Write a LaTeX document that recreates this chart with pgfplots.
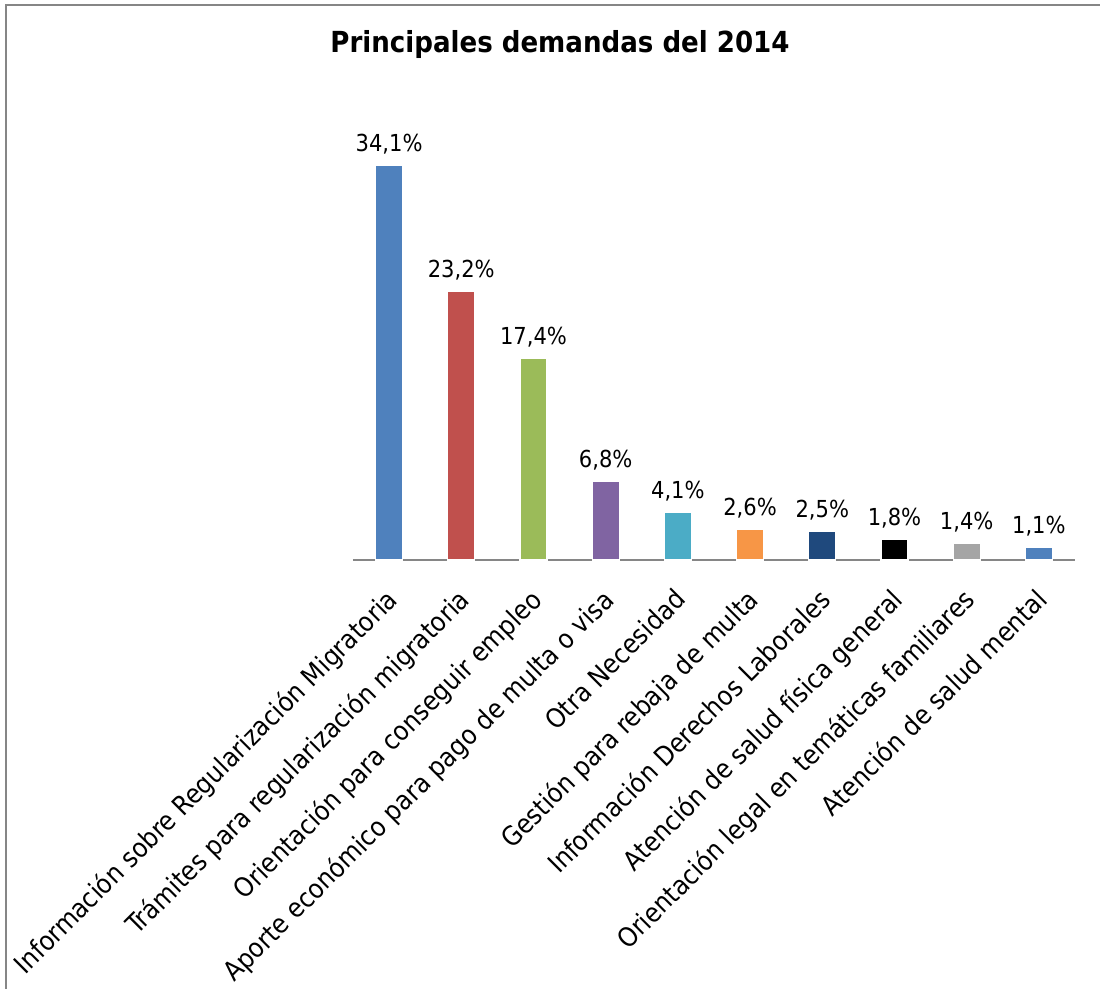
\documentclass[border=0pt]{standalone}
\usepackage{fontspec}
\setmainfont{DejaVu Sans Condensed}
\usepackage{pgfplots}
\pgfplotsset{compat=1.18}
\definecolor{c1}{HTML}{4F81BD}
\definecolor{c2}{HTML}{C0504D}
\definecolor{c3}{HTML}{9BBB59}
\definecolor{c4}{HTML}{8064A2}
\definecolor{c5}{HTML}{4BACC6}
\definecolor{c6}{HTML}{F79646}
\definecolor{c7}{HTML}{1F497D}
\definecolor{c8}{HTML}{000000}
\definecolor{c9}{HTML}{A5A5A5}
\definecolor{c10}{HTML}{4F81BD}
\definecolor{frame}{HTML}{868686}
\begin{document}
\begin{tikzpicture}
\useasboundingbox (0,0) rectangle (550pt,494.5pt);
\draw[frame, line width=1.2pt] (3pt,0) -- (3pt,492pt) -- (550pt,492pt);
\node[font=\fontsize{14.5}{17}\selectfont\bfseries] at (280pt,472pt) {Principales demandas del 2014};
\begin{axis}[
  at={(176.5pt,214.5pt)}, anchor=south west,
  width=361pt, height=220pt, scale only axis,
  xmin=-0.5, xmax=9.5, ymin=0, ymax=38,
  axis x line*=bottom, axis y line=none,
  x axis line style={frame, line width=1pt, -},
  xtick={0,...,9},
  major tick length=0pt,
  xticklabels={Información sobre Regularización Migratoria,
    Trámites para regularización migratoria,
    Orientación para conseguir empleo,
    Aporte económico para pago de multa o visa,
    Otra Necesidad,
    Gestión para rebaja de multa,
    Información Derechos Laborales,
    Atención de salud física general,
    Orientación legal en temáticas familiares,
    Atención de salud mental},
  xticklabel style={rotate=45, anchor=north east, font=\fontsize{13.3}{15}\selectfont, inner sep=0pt, xshift=-11pt, yshift=-7.5pt},
  ybar, bar width=13.5pt,
  clip=false,
  nodes near coords={\pgfmathprintnumber[fixed,precision=1,zerofill,use comma]{\pgfplotspointmeta}\%},
  nodes near coords style={font=\fontsize{11.7}{14}\selectfont, anchor=south, yshift=2pt},
  /pgf/number format/assume math mode=true,
  every axis plot/.append style={bar shift=0pt, draw=white, line width=0.6pt},
]
\addplot[fill=c1] coordinates {(0,34.1)};
\addplot[fill=c2] coordinates {(1,23.2)};
\addplot[fill=c3] coordinates {(2,17.4)};
\addplot[fill=c4] coordinates {(3,6.8)};
\addplot[fill=c5] coordinates {(4,4.1)};
\addplot[fill=c6] coordinates {(5,2.6)};
\addplot[fill=c7] coordinates {(6,2.5)};
\addplot[fill=c8] coordinates {(7,1.8)};
\addplot[fill=c9] coordinates {(8,1.4)};
\addplot[fill=c10] coordinates {(9,1.1)};
\end{axis}
\end{tikzpicture}
\end{document}
